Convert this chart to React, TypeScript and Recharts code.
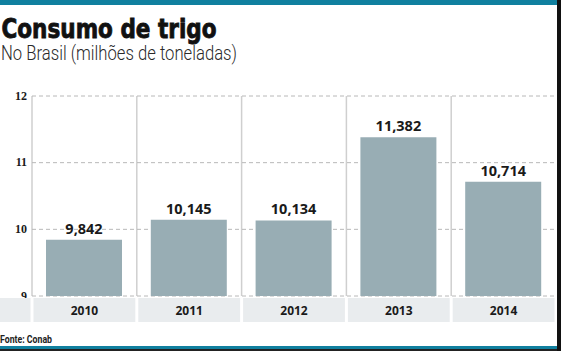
import React from 'react';
import { BarChart, Bar, XAxis, YAxis, CartesianGrid, LabelList } from 'recharts';

const categories = ['2010', '2011', '2012', '2013', '2014'];
const consumo = [9.842, 10.145, 10.134, 11.382, 10.714];
const yTicks = [9, 10, 11, 12];

const data = categories.map((year, i) => ({ year, value: consumo[i] }));

const W = 561;
const H = 351;
const BAND_TOP = 298;
const BAND_H = 24;
const TEAL = '#10809f';
const BAR = '#98adb4';
const BAND = '#e9ecee';

const fmt = (v: number) => v.toFixed(3).replace('.', ',');

const XTick = (props: any) => {
  const { x, payload } = props;
  const half = 524 / 5 / 2;
  return (
    <g>
      <rect x={x - half + 1.5} y={BAND_TOP} width={half * 2 - 3} height={BAND_H} fill={BAND} />
      <text
        x={x}
        y={BAND_TOP + 16.5}
        textAnchor="middle"
        fontFamily="'Open Sans', sans-serif"
        fontWeight={700}
        fontSize={12}
        fill="#1a1a1a"
      >
        {payload.value}
      </text>
    </g>
  );
};

const YTick = (props: any) => {
  const { x, y, payload } = props;
  return (
    <text
      x={x}
      y={y}
      dy={3.5}
      textAnchor="end"
      fontFamily="'Liberation Serif', serif"
      fontWeight={700}
      fontSize={12}
      fill="#1a1a1a"
    >
      {payload.value}
    </text>
  );
};

export default function App() {
  return (
    <div style={{ position: 'absolute', left: 0, top: 0, width: W, height: H, background: '#fff' }}>
      <div style={{ position: 'absolute', left: 0, top: 0 }}>
        <BarChart width={W} height={H} data={data} margin={{ top: 96, right: 5, bottom: 25, left: 0 }}>
          <CartesianGrid
            horizontal={false}
            vertical={true}
            stroke="#cfcfcf"
            strokeWidth={1.5}
            verticalCoordinatesGenerator={({ offset }: any) =>
              [0, 1, 2, 3, 4].map((i) => offset.left + (i * offset.width) / 5)
            }
          />
          <CartesianGrid horizontal={true} vertical={false} stroke="#b8b8b8" strokeDasharray="4 3" />
          <XAxis
            dataKey="year"
            axisLine={false}
            tickLine={false}
            height={30}
            interval={0}
            tick={<XTick />}
          />
          <YAxis
            width={32}
            domain={[9, 12]}
            ticks={yTicks}
            axisLine={false}
            tickLine={false}
            tickMargin={5}
            tickSize={0}
            tick={<YTick />}
            allowDataOverflow
          />
          <Bar dataKey="value" fill={BAR} barSize={76} isAnimationActive={false}>
            <LabelList
              dataKey="value"
              position="top"
              offset={6}
              formatter={(v: any) => fmt(Number(v))}
              style={{ fontFamily: "'Open Sans', sans-serif", fontWeight: 700, fontSize: 14.5, fill: '#1a1a1a' }}
            />
          </Bar>
        </BarChart>
      </div>
      <svg
        width={W}
        height={H}
        style={{ position: 'absolute', left: 0, top: 0, pointerEvents: 'none' }}
      >
        <rect x={0} y={0} width={557} height={5} fill={TEAL} />
        <rect x={557} y={0} width={4} height={H} fill="#111" />
        <rect x={0} y={346} width={557} height={3} fill={TEAL} />
        <rect x={0} y={349} width={557} height={2} fill="#222" />
        <rect x={0} y={BAND_TOP} width={30.5} height={BAND_H} fill={BAND} />
        <text
          x={1.5}
          y={38}
          fontFamily="'DejaVu Sans', sans-serif"
          fontWeight={700}
          fontSize={27}
          textLength={215}
          lengthAdjust="spacingAndGlyphs"
          fill="#111"
          stroke="#111"
          strokeWidth={0.9}
        >
          Consumo de trigo
        </text>
        <text
          x={1}
          y={60}
          fontFamily="Roboto, sans-serif"
          fontSize={19.5}
          fontWeight={300}
          textLength={236}
          lengthAdjust="spacingAndGlyphs"
          fill="#2a2a2a"
        >
          No Brasil (milhões de toneladas)
        </text>
        <text
          x={0}
          y={343}
          fontFamily="Roboto, sans-serif"
          fontWeight={700}
          fontSize={10.5}
          textLength={52}
          lengthAdjust="spacingAndGlyphs"
          fill="#222"
        >
          Fonte: Conab
        </text>
      </svg>
    </div>
  );
}
